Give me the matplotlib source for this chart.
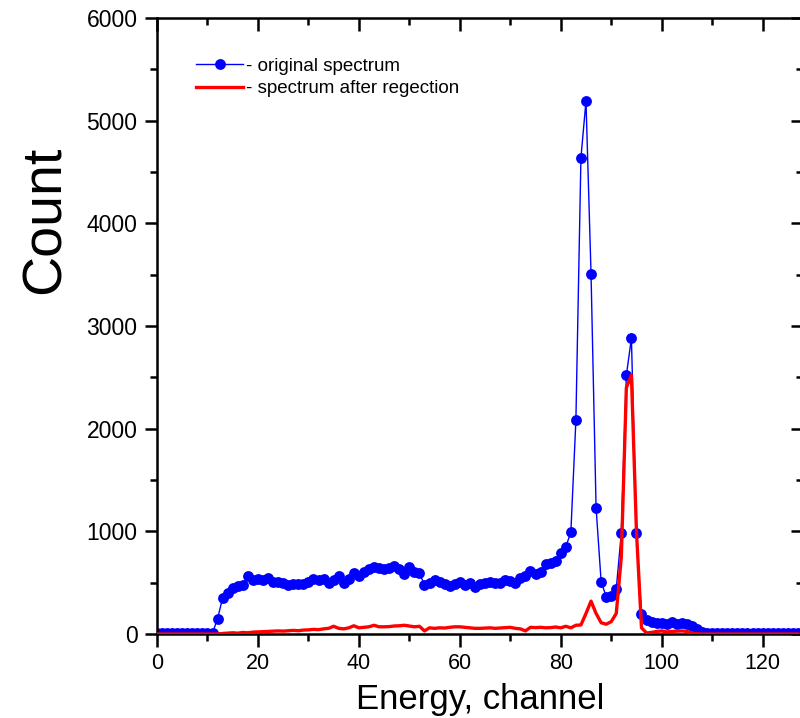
import matplotlib
matplotlib.use("Agg")
import matplotlib.pyplot as plt
from matplotlib import font_manager
from matplotlib.ticker import MultipleLocator

# channel-by-channel counts
channels = list(range(128))

original = [10] * 12 + [
    150, 350, 400, 445, 465, 480, 565, 525, 535, 530,      # 12-21
    550, 510, 510, 500, 480, 490, 485, 490, 510, 540,      # 22-31
    525, 540, 495, 525, 565, 500, 540, 590, 565, 605,      # 32-41
    630, 655, 640, 630, 640, 660, 630, 585, 655, 605,      # 42-51
    590, 480, 495, 530, 510, 485, 465, 490, 510, 475,      # 52-61
    500, 460, 485, 500, 510, 495, 495, 525, 515, 500,      # 62-71
    550, 560, 615, 585, 600, 680, 695, 710, 785, 850,      # 72-81
    990, 2080, 4640, 5190, 3510, 1230, 510, 365, 370, 440,  # 82-91
    985, 2520, 2880, 980, 190, 140, 118, 108, 105, 100,    # 92-101
    115, 100, 105, 100, 80, 45, 20,                        # 102-108
] + [10] * 19

after_rejection = [0] * 13 + [
    5, 8, 12, 8, 15, 12, 18, 20, 22,                       # 13-21
    25, 28, 30, 28, 32, 35, 32, 38, 40, 45,                # 22-31
    42, 50, 55, 75, 55, 50, 60, 80, 60, 65,                # 32-41
    70, 85, 70, 70, 72, 78, 80, 85, 78, 70,                # 42-51
    75, 30, 60, 55, 60, 58, 65, 70, 70, 65,                # 52-61
    60, 55, 55, 58, 60, 55, 58, 60, 65, 55,                # 62-71
    50, 30, 65, 62, 65, 60, 62, 68, 60, 75,                # 72-81
    60, 85, 88, 200, 320, 200, 110, 95, 120, 200,          # 82-91
    750, 2400, 2520, 1000, 60, 10, 15, 25, 30, 20,         # 92-101
    25, 28, 30, 25, 8, 2,                                  # 102-107
] + [0] * 20

installed = {f.name for f in font_manager.fontManager.ttflist}
base = "Liberation Sans" if "Liberation Sans" in installed else "DejaVu Sans"
plt.rcParams["font.family"] = [base, "DejaVu Sans"]

fig = plt.figure(figsize=(8.0, 7.18), dpi=100)
ax = fig.add_axes([0.19625, 0.117, 0.8075, 0.858])

ax.plot(channels, original, color="blue", lw=1, marker="o", ms=7.8,
        markeredgewidth=0, label="- original spectrum", zorder=2)
ax.plot(channels, after_rejection, color="red", lw=2.4,
        label="- spectrum after regection", zorder=3)

ax.set_xlim(0, 128)
ax.set_ylim(0, 6000)
ax.xaxis.set_major_locator(MultipleLocator(20))
ax.xaxis.set_minor_locator(MultipleLocator(10))
ax.yaxis.set_major_locator(MultipleLocator(1000))
ax.yaxis.set_minor_locator(MultipleLocator(500))

for s in ax.spines.values():
    s.set_linewidth(1.8)

ax.tick_params(which="both", bottom=True, left=True, top=True, right=True,
               width=1.8)
ax.tick_params(axis="x", which="major", direction="out", length=9, labelsize=15.5, pad=5)
ax.tick_params(axis="y", which="major", direction="out", length=9, labelsize=16.5, pad=5)
ax.tick_params(which="minor", direction="out", length=5)
ax.tick_params(axis="x", which="both", top=True, labeltop=False)
ax.tick_params(axis="y", which="both", right=True, labelright=False)
# top/right ticks point inward
for t in ax.xaxis.get_major_ticks() + ax.xaxis.get_minor_ticks():
    t.tick2line.set_marker(3)
for t in ax.yaxis.get_major_ticks() + ax.yaxis.get_minor_ticks():
    t.tick2line.set_marker(0)

ax.set_xlabel("Energy, channel", fontsize=25, labelpad=6)
ax.set_ylabel("Count", fontsize=40)
ax.yaxis.set_label_coords(-0.132, 0.672)

leg = ax.legend(loc="upper left", bbox_to_anchor=(0.035, 0.963), frameon=False,
                fontsize=13.5, handlelength=2.5, handletextpad=0.15,
                labelspacing=0.28)

fig.savefig("out.png", dpi=100)
